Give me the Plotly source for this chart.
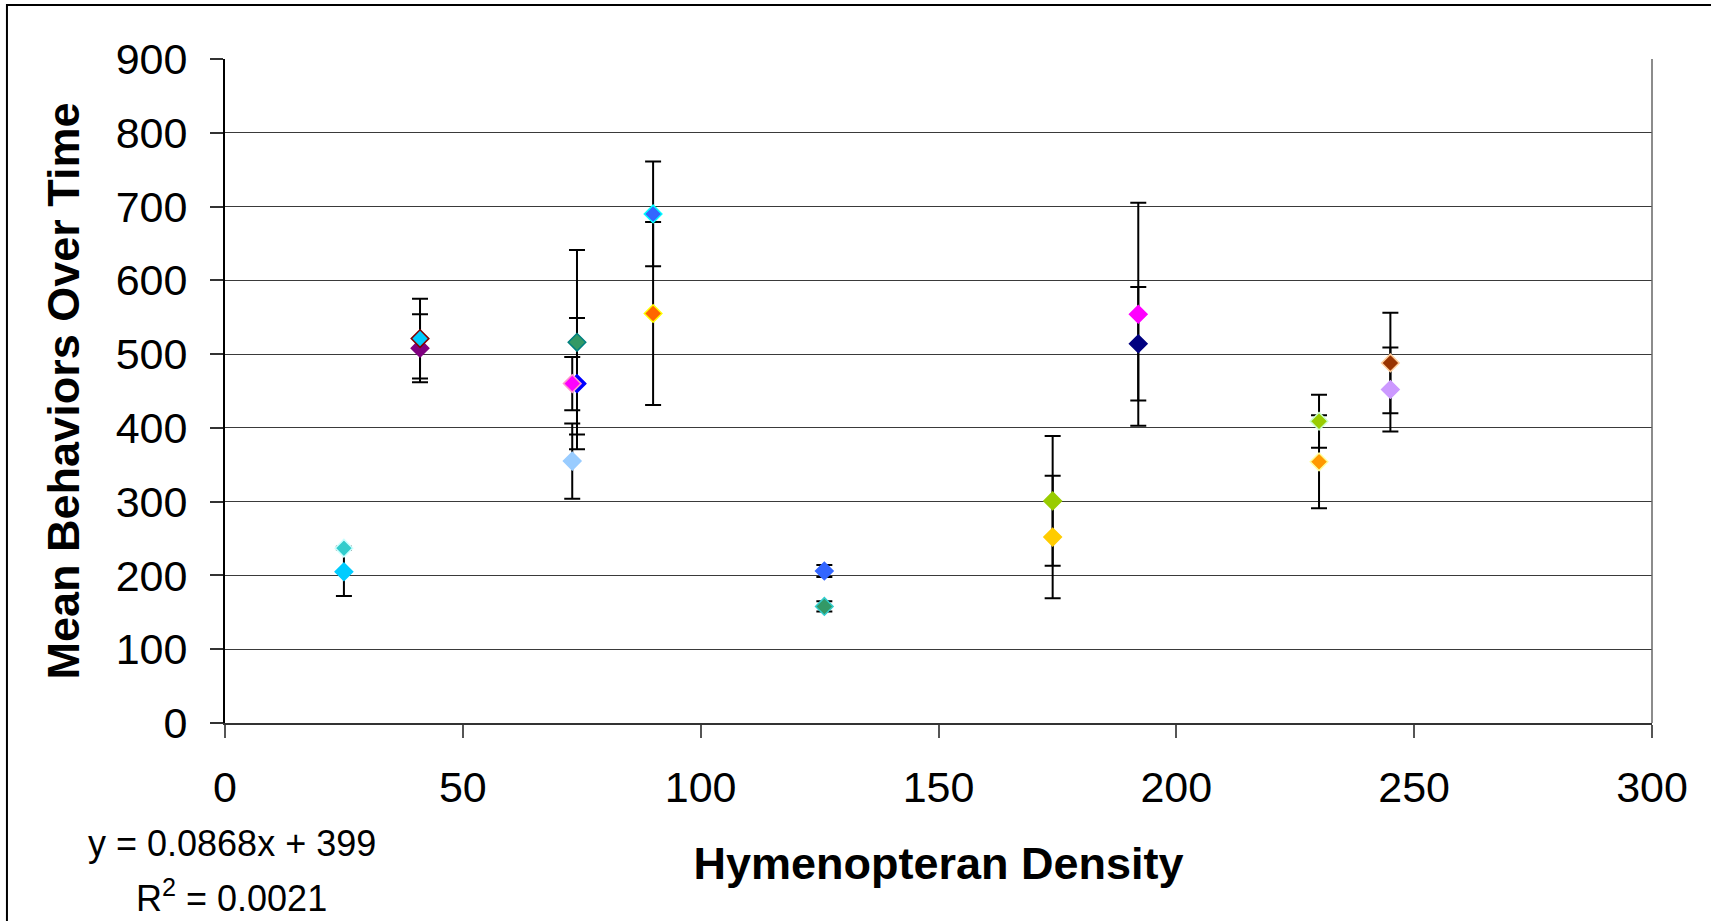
import plotly.graph_objects as go

# ---- data ----
density = [25, 25, 41, 41, 74, 74, 73, 73, 90, 90, 126, 126, 174, 174, 192, 192, 230, 230, 245, 245]
mean_behaviors = [237, 205, 508, 521, 516, 460, 460, 355, 690, 555, 206, 158, 301, 252, 554, 514, 409, 354, 488, 452]
error = [2, 33, 46, 54, 125, 89, 36, 51, 71, 124, 8, 7, 88, 83, 151, 77, 36, 63, 68, 57]

fill_colors = ["#33CCCC", "#00CCFF", "#800080", "#00CCFF", "#339966", "#0000FF", "#FF00FF", "#99CCFF",
               "#3366FF", "#FF6600", "#3366FF", "#339966", "#99CC00", "#FFCC00", "#FF00FF", "#000080",
               "#99CC00", "#FF9900", "#993300", "#CC99FF"]
edge_colors = ["#CCFFFF", "#00CCFF", "#800080", "#800000", "#008080", "#0000FF", "#FF99CC", "#99CCFF",
               "#00FFFF", "#FFFF00", "#3366FF", "#33CCCC", "#99CC00", "#FFCC00", "#FF00FF", "#000080",
               "#CCFFCC", "#FFFF99", "#FFCC99", "#CC99FF"]

x_ticks = [0, 50, 100, 150, 200, 250, 300]
y_ticks = [0, 100, 200, 300, 400, 500, 600, 700, 800, 900]

equation = "y = 0.0868x + 399"
r_squared = "R<sup>2</sup> = 0.0021"

FONT = "Arial, Liberation Sans, sans-serif"

fig = go.Figure()
fig.add_trace(go.Scatter(
    x=density, y=mean_behaviors, mode="markers",
    marker=dict(symbol="diamond", size=13.5, color=fill_colors,
                line=dict(color=edge_colors, width=1.5)),
    error_y=dict(type="data", array=error, visible=True, color="black", thickness=2, width=8),
    showlegend=False,
))

fig.update_layout(
    width=1711, height=921,
    margin=dict(l=225, r=59, t=59, b=198),
    paper_bgcolor="white", plot_bgcolor="white",
    font=dict(family=FONT, color="black"),
    xaxis=dict(
        range=[0, 300], tickvals=x_ticks, showgrid=False, zeroline=False,
        showline=True, linecolor="#333333", linewidth=2,
        ticks="outside", ticklen=13, tickcolor="#555555", tickwidth=1.5,
        tickfont=dict(size=43, family=FONT), ticklabelstandoff=12,
        title=dict(text="<b>Hymenopteran Density</b>", font=dict(size=45, family=FONT), standoff=38),
    ),
    yaxis=dict(
        range=[0, 900], tickvals=y_ticks, showgrid=True, gridcolor="#3a3a3a", gridwidth=1.3,
        zeroline=False, showline=True, linecolor="black", linewidth=2,
        ticks="outside", ticklen=13, tickcolor="#333333", tickwidth=1.5,
        tickfont=dict(size=43, family=FONT), ticklabelstandoff=14,
        title=dict(text="<b>Mean Behaviors Over Time</b>", font=dict(size=45, family=FONT), standoff=22),
    ),
    shapes=[
        dict(type="line", xref="paper", yref="paper", x0=1, x1=1, y0=0, y1=1,
             line=dict(color="#666666", width=1.5)),
        dict(type="rect", xref="paper", yref="paper", x0=-0.1528, x1=1.3, y0=-0.6, y1=1.0813,
             line=dict(color="black", width=2), fillcolor="rgba(0,0,0,0)", layer="below"),
    ],
    annotations=[
        dict(text=equation, xref="paper", yref="paper", x=0.0049, y=-0.1815,
             xanchor="center", yanchor="middle", showarrow=False, font=dict(size=36, family=FONT)),
        dict(text=r_squared, xref="paper", yref="paper", x=0.0049, y=-0.2605,
             xanchor="center", yanchor="middle", showarrow=False, font=dict(size=36, family=FONT)),
    ],
)

fig.write_html("out.html")
